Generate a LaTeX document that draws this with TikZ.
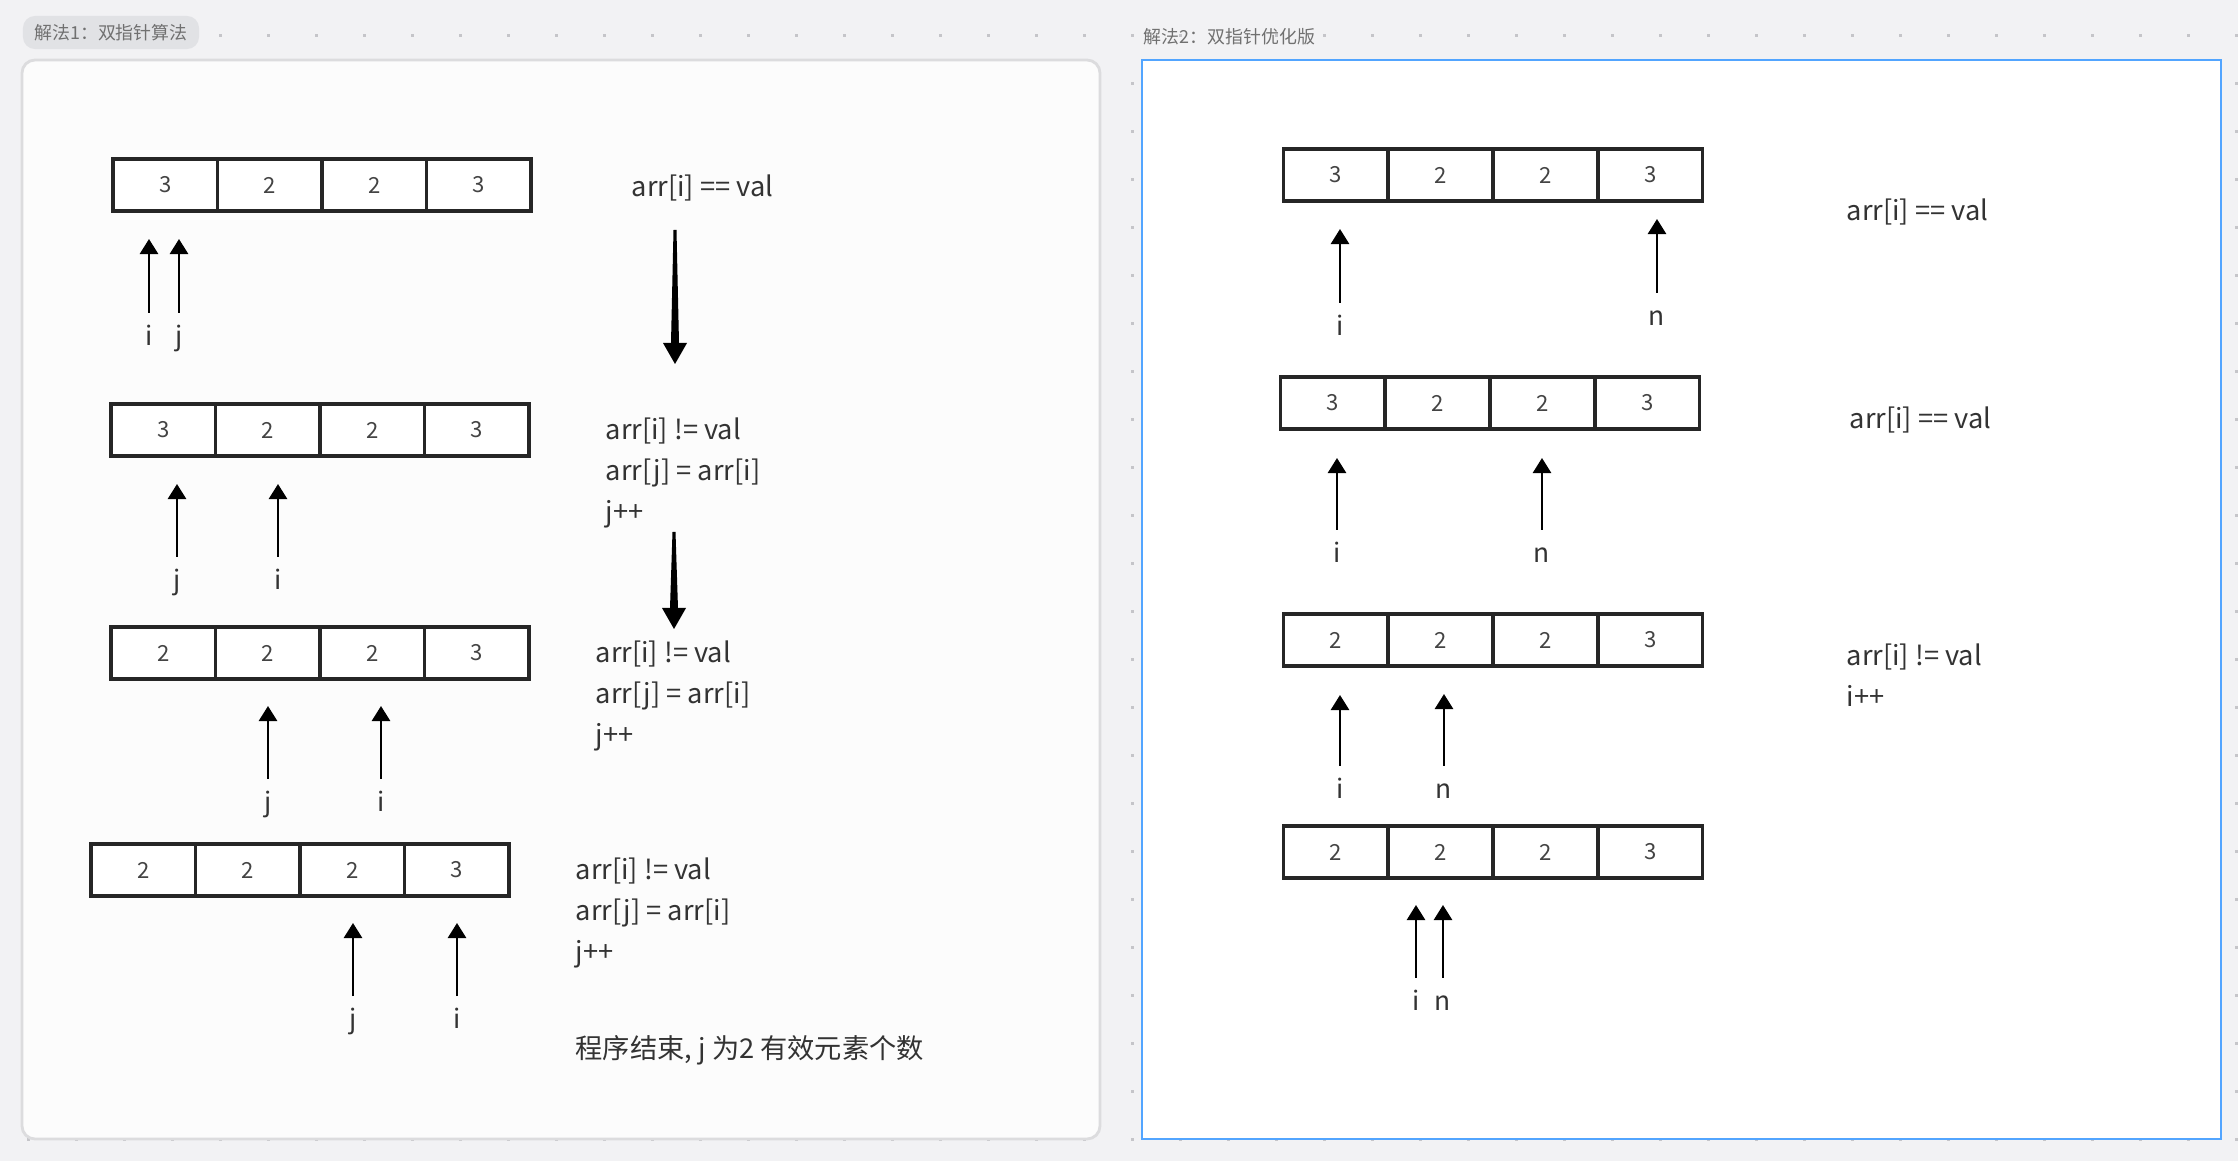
\documentclass[tikz,border=0pt]{standalone}
\usepackage{fontspec}
\setmainfont{Noto Sans CJK SC}
\usepackage{xcolor}
\usetikzlibrary{arrows.meta, positioning, calc}

\definecolor{canvas}{HTML}{F2F2F4}
\definecolor{griddot}{HTML}{C5C5C9}
\definecolor{panelbg}{HTML}{FCFCFC}
\definecolor{panelline}{HTML}{DCDCDE}
\definecolor{blueline}{HTML}{52A5FF}
\definecolor{tagbg}{HTML}{E1E2E5}
\definecolor{tagtxt}{HTML}{707070}
\definecolor{txt}{HTML}{333333}
\definecolor{cellline}{HTML}{262626}
\definecolor{digit}{HTML}{444444}

\newcommand{\txtfont}{\fontsize{7.75pt}{11.7pt}\selectfont}
\newcommand{\cellfont}{\fontsize{6.3pt}{7pt}\selectfont}
\newcommand{\ptrfont}{\fontsize{7.5pt}{8pt}\selectfont}
\newcommand{\tagfont}{\fontsize{5.1pt}{6pt}\selectfont}

\begin{document}
\begin{tikzpicture}[
  x=0.01cm, y=-0.01cm,
  cell/.style={draw=cellline, line width=0.9pt, fill=white, minimum width=1.045cm, minimum height=0.52cm, inner sep=0, font=\cellfont, text=digit},
  ptr/.style={-{Triangle[width=0.18cm, length=0.15cm]}, line width=0.75pt},
  ptrlbl/.style={anchor=north, inner xsep=0, inner ysep=0.14cm, text height=0.18cm, text depth=0.07cm, font=\ptrfont, text=txt},
  note/.style={anchor=west, inner sep=0, align=left, font=\txtfont, text=txt},
  tag/.style={fill=tagbg, rounded corners=0.12cm, minimum width=1.76cm, minimum height=0.33cm, inner sep=0, font=\tagfont, text=tagtxt},
  bigarr/.style={fill=black}
]
\useasboundingbox (0,0) rectangle (2238,1161);
\fill[canvas] (0,0) rectangle (2238,1161);

% dot grid of the canvas
\foreach \gx in {0,...,46}
  \foreach \gy in {0,...,23}
    \fill[griddot] ({28.7+48*\gx},{35.3+48*\gy}) +(-1.6,-1.6) rectangle +(1.6,1.6);

% panels
\draw[draw=panelline, line width=0.8pt, fill=panelbg, rounded corners=0.13cm] (22,60) rectangle (1100,1139);
\draw[draw=blueline, line width=0.7pt, fill=white] (1142,60) rectangle (2221,1139);

\node[tag] (tag1) at (111,32.5) {解法1：双指针算法};
\node[anchor=west, inner sep=0, font=\tagfont, text=tagtxt] (tag2) at (1143,37) {解法2：双指针优化版};

% left: arrays
\foreach \v [count=\k] in {3,2,2,3}
  \node[cell] (a1c\k) at ({165.25+104.5*(\k-1)},185) {\v};
\foreach \v [count=\k] in {3,2,2,3}
  \node[cell] (a2c\k) at ({163.25+104.5*(\k-1)},430) {\v};
\foreach \v [count=\k] in {2,2,2,3}
  \node[cell] (a3c\k) at ({163.25+104.5*(\k-1)},653) {\v};
\foreach \v [count=\k] in {2,2,2,3}
  \node[cell] (a4c\k) at ({143.25+104.5*(\k-1)},870) {\v};

% left: pointers
\node[ptrlbl] (a1i) at (149,313) {i};
\node[ptrlbl] (a1j) at (179,313) {j};
\coordinate (a1it) at (149,239);
\coordinate (a1jt) at (179,239);
\draw[ptr] (a1i) -- (a1it);
\draw[ptr] (a1j) -- (a1jt);

\node[ptrlbl] (a2j) at (177,557) {j};
\node[ptrlbl] (a2i) at (278,557) {i};
\coordinate (a2jt) at (177,484);
\coordinate (a2it) at (278,484);
\draw[ptr] (a2j) -- (a2jt);
\draw[ptr] (a2i) -- (a2it);

\node[ptrlbl] (a3j) at (268,779) {j};
\node[ptrlbl] (a3i) at (381,779) {i};
\coordinate (a3jt) at (268,706);
\coordinate (a3it) at (381,706);
\draw[ptr] (a3j) -- (a3jt);
\draw[ptr] (a3i) -- (a3it);

\node[ptrlbl] (a4j) at (353,996) {j};
\node[ptrlbl] (a4i) at (457,996) {i};
\coordinate (a4jt) at (353,923);
\coordinate (a4it) at (457,923);
\draw[ptr] (a4j) -- (a4jt);
\draw[ptr] (a4i) -- (a4it);

% left: notes
\node[note] (n1) at (631,188) {arr[i] == val};
\node[note] (n2) at (605,473) {arr[i] != val\\arr[j] = arr[i]\\j++};
\node[note] (n3) at (595,696) {arr[i] != val\\arr[j] = arr[i]\\j++};
\node[note] (n4) at (575,913) {arr[i] != val\\arr[j] = arr[i]\\j++};
\node[note] (n5) at (575,1050) {程序结束, j 为2 有效元素个数};

% left: step arrows
\coordinate (d1s) at (675,230);
\coordinate (d1e) at (675,364);
\fill[bigarr] ($(d1s)+(-1.5,0)$) -- ($(d1s)+(1.5,0)$) -- ($(d1e)+(4,-21)$) -- ($(d1e)+(12,-21)$)
  -- (d1e) -- ($(d1e)+(-12,-21)$) -- ($(d1e)+(-4,-21)$) -- cycle;
\coordinate (d2s) at (674,532);
\coordinate (d2e) at (674,629);
\fill[bigarr] ($(d2s)+(-1.5,0)$) -- ($(d2s)+(1.5,0)$) -- ($(d2e)+(4,-21)$) -- ($(d2e)+(12,-21)$)
  -- (d2e) -- ($(d2e)+(-12,-21)$) -- ($(d2e)+(-4,-21)$) -- cycle;

% right: arrays
\foreach \v [count=\k] in {3,2,2,3}
  \node[cell] (b1c\k) at ({1335.5+105*(\k-1)},175) {\v};
\foreach \v [count=\k] in {3,2,2,3}
  \node[cell] (b2c\k) at ({1332.5+105*(\k-1)},403) {\v};
\foreach \v [count=\k] in {2,2,2,3}
  \node[cell] (b3c\k) at ({1335.5+105*(\k-1)},640) {\v};
\foreach \v [count=\k] in {2,2,2,3}
  \node[cell] (b4c\k) at ({1335.5+105*(\k-1)},852) {\v};

% right: pointers
\node[ptrlbl] (b1i) at (1340,303) {i};
\node[ptrlbl] (b1n) at (1657,293) {n};
\coordinate (b1it) at (1340,229);
\coordinate (b1nt) at (1657,219);
\draw[ptr] (b1i) -- (b1it);
\draw[ptr] (b1n) -- (b1nt);

\node[ptrlbl] (b2i) at (1337,530) {i};
\node[ptrlbl] (b2n) at (1542,530) {n};
\coordinate (b2it) at (1337,458);
\coordinate (b2nt) at (1542,458);
\draw[ptr] (b2i) -- (b2it);
\draw[ptr] (b2n) -- (b2nt);

\node[ptrlbl] (b3i) at (1340,766) {i};
\node[ptrlbl] (b3n) at (1444,766) {n};
\coordinate (b3it) at (1340,695);
\coordinate (b3nt) at (1444,694);
\draw[ptr] (b3i) -- (b3it);
\draw[ptr] (b3n) -- (b3nt);

\node[ptrlbl] (b4i) at (1416,978) {i};
\node[ptrlbl] (b4n) at (1443,978) {n};
\coordinate (b4it) at (1416,905);
\coordinate (b4nt) at (1443,905);
\draw[ptr] (b4i) -- (b4it);
\draw[ptr] (b4n) -- (b4nt);

% right: notes
\node[note] (m1) at (1846,212) {arr[i] == val};
\node[note] (m2) at (1849,420) {arr[i] == val};
\node[note] (m3) at (1846,675) {arr[i] != val\\i++};
\end{tikzpicture}
\end{document}
